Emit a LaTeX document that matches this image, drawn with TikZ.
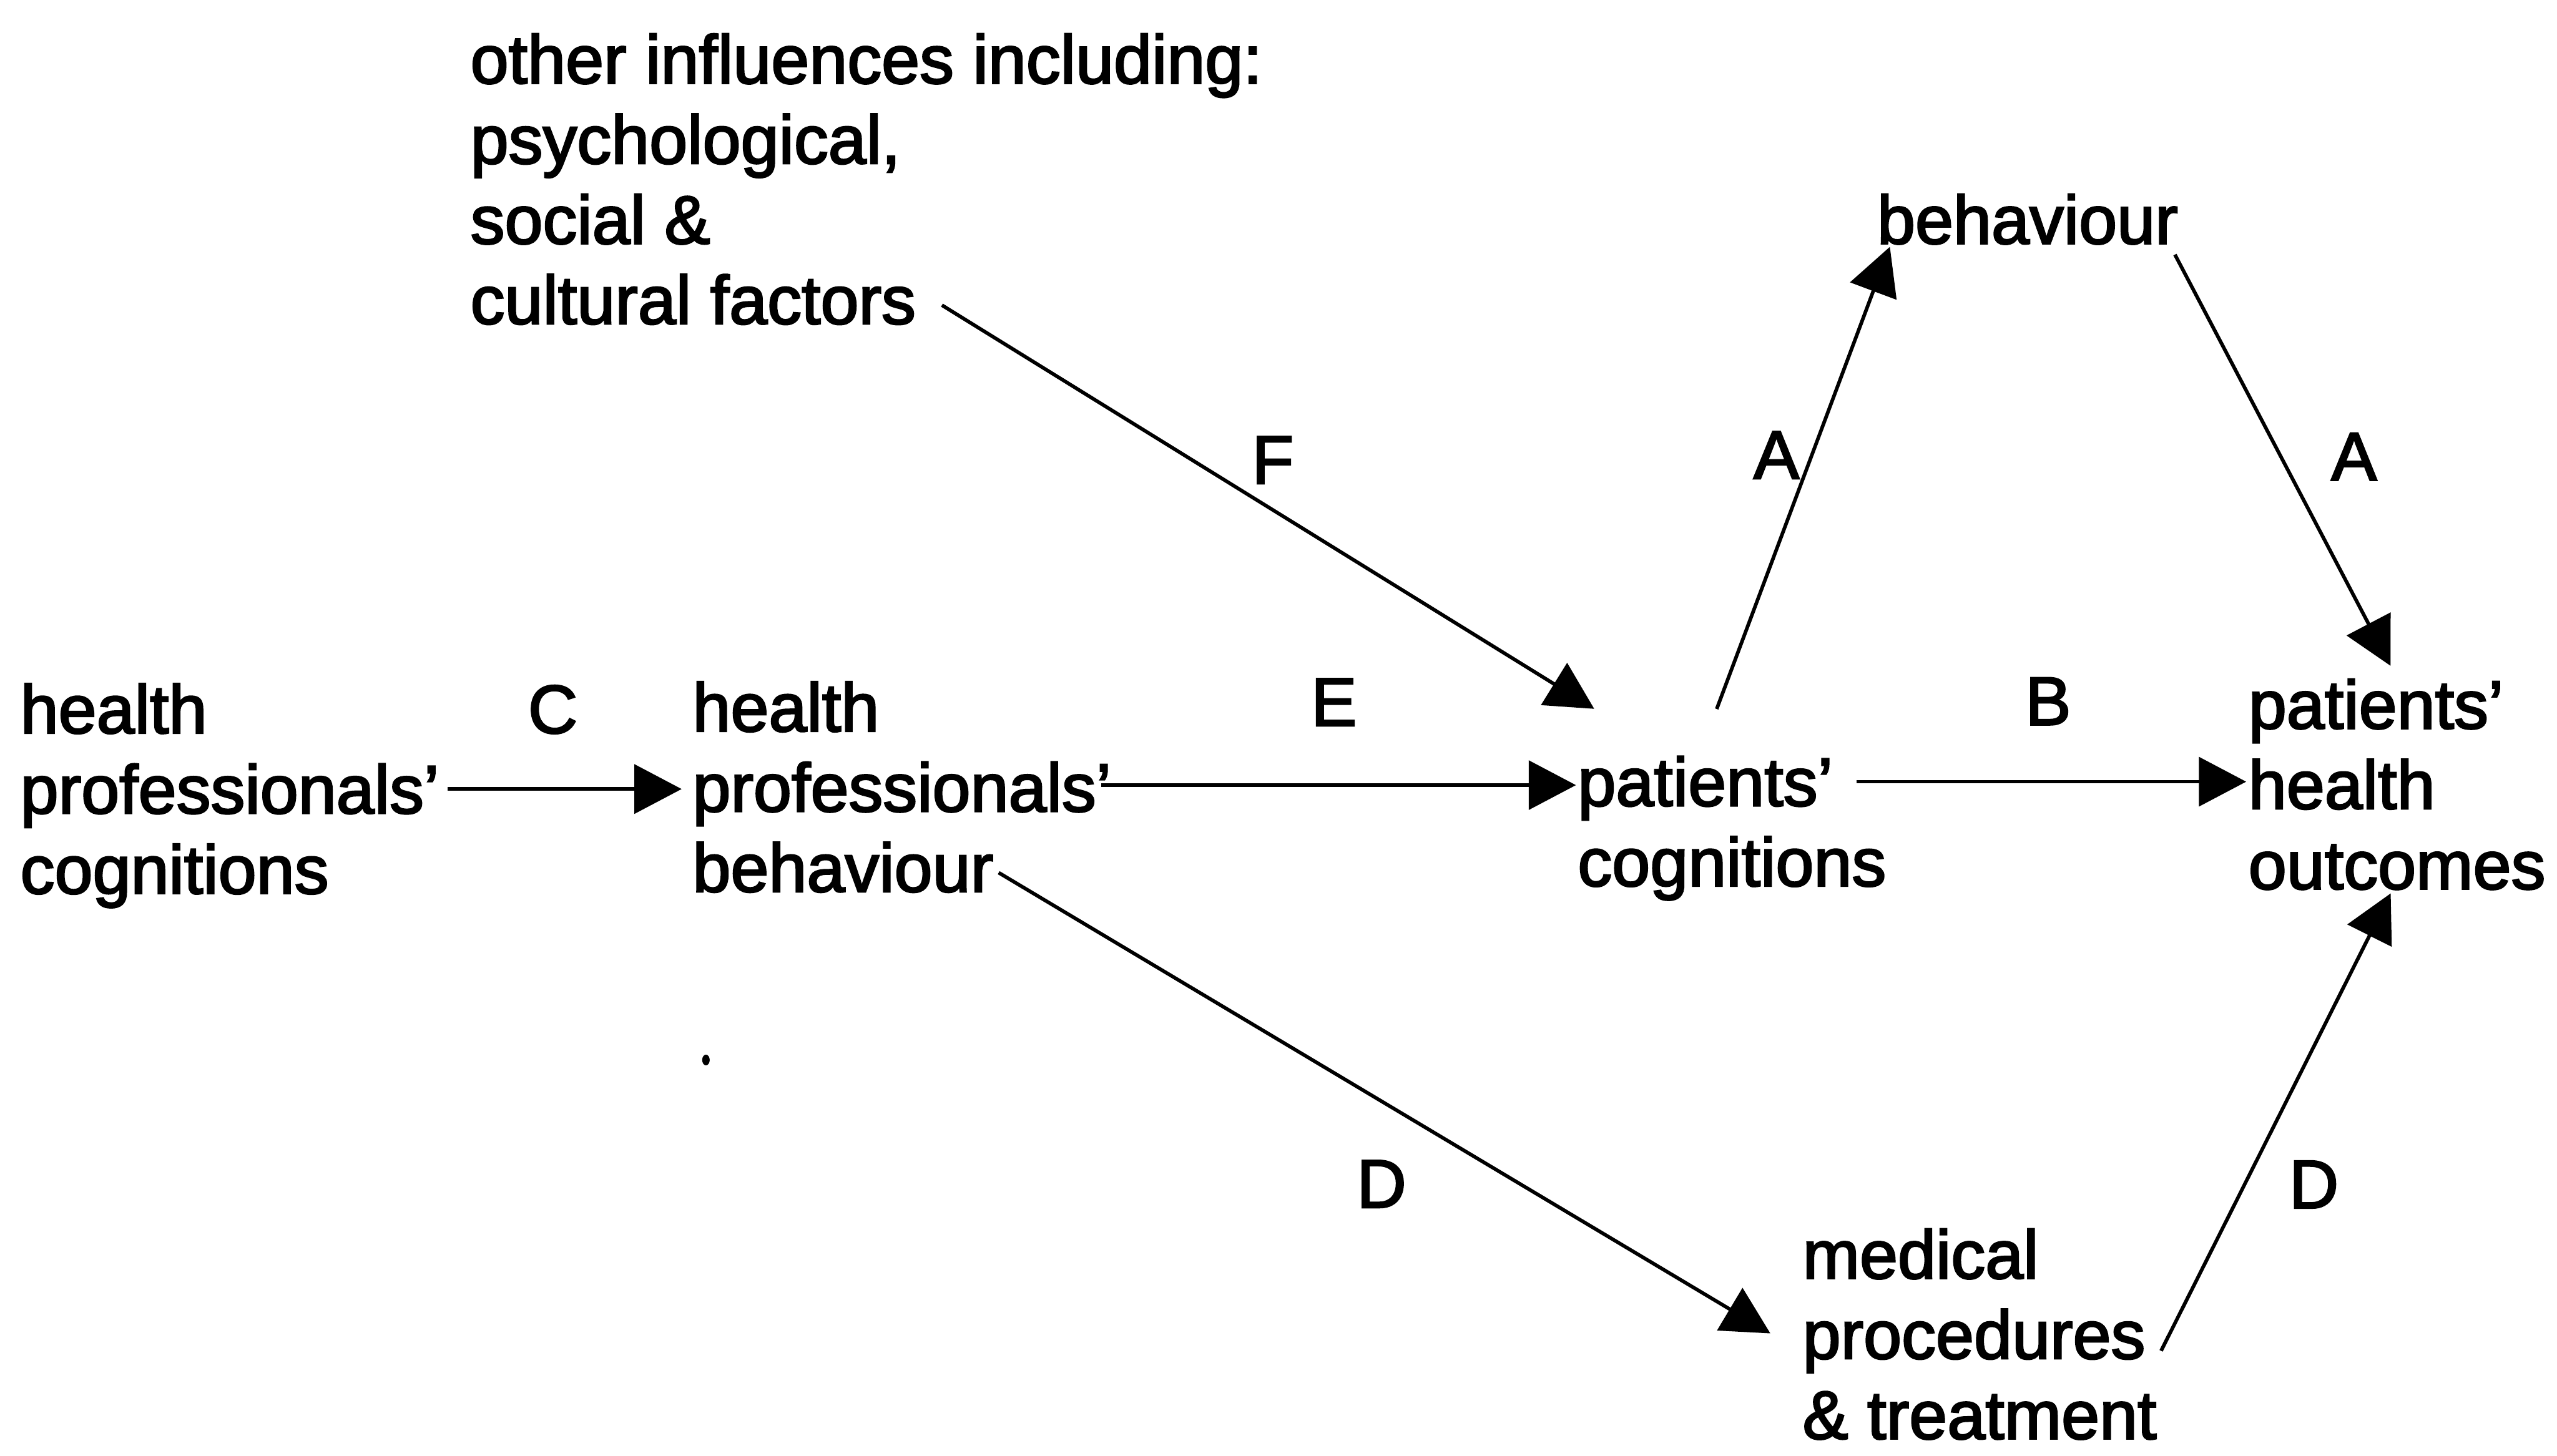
\documentclass[tikz,border=0pt]{standalone}
\usepackage{fontspec}
\setmainfont{Liberation Sans}[FakeBold=2.5]
\usetikzlibrary{arrows.meta}
\newcommand{\fl}{\rule[-9pt]{0pt}{41pt}}
\begin{document}
\begin{tikzpicture}[x=1pt,y=1pt,
  txt/.style={anchor=north west, inner sep=0pt, outer sep=0pt, align=left,
              font=\fontsize{42}{49.2}\selectfont},
  lbl/.style={anchor=base, inner sep=0pt, outer sep=0pt,
              font=\fontsize{42}{49.2}\selectfont},
  arr/.style={line width=2.2pt, -{Triangle[length=29pt,width=30pt]}}]
\useasboundingbox (0,0) rectangle (1568,893);

% text nodes
\node[txt] (hpc)   at (12.5,475.3)   {\fl health\\professionals’\\cognitions\fl};
\node[txt] (hpb)   at (424.7,476.4)  {\fl health\\professionals’\\behaviour\fl};
\node[txt] (pc)    at (967.5,430.7)  {\fl patients’\\cognitions\fl};
\node[txt] (pho)   at (1378.8,478.1) {\fl patients’\\health\\outcomes\fl};
\node[txt] (beh)   at (1151.1,775.5) {\fl behaviour};
\node[txt] (other) at (288.5,873.9)  {\fl other influences including:\\psychological,\\social \&\\cultural factors};
\node[txt] (med)   at (1105.4,140.8) {\fl medical\\procedures\\\& treatment};

% connector labels
\node[lbl] (lC)  at (339,443.3)    {C};
\node[lbl] (lE)  at (818,447.8)    {E};
\node[lbl] (lB)  at (1256,448.4)   {B};
\node[lbl] (lF)  at (780.5,596.3)  {F};
\node[lbl] (lA1) at (1089.3,599.4) {A};
\node[lbl] (lA2) at (1443.5,598.4) {A};
\node[lbl] (lD1) at (847.2,152.3)  {D};
\node[lbl] (lD2) at (1418.9,152)   {D};

% connectors
\draw[arr] ([shift={(262,-66.3)}]hpc.north west)   -- ([shift={(-6.7,-67.4)}]hpb.north west);
\draw[arr] ([shift={(250.5,-65)}]hpb.north west)   -- ([shift={(-1.1,-19.3)}]pc.north west);
\draw[arr] ([shift={(170.8,-17.2)}]pc.north west)  -- ([shift={(-1.4,-64.6)}]pho.north west);
\draw[arr] ([shift={(289.1,-168.1)}]other.north west) -- ([shift={(10.1,27.5)}]pc.north west);
\draw[arr] ([shift={(85.2,27.4)}]pc.north west)    -- ([shift={(7.8,-33.9)}]beh.north west);
\draw[arr] ([shift={(182.6,-38.7)}]beh.north west) -- ([shift={(87.1,6.5)}]pho.north west);
\draw[arr] ([shift={(187.7,-118.7)}]hpb.north west) -- ([shift={(-19.8,-65.7)}]med.north west);
\draw[arr] ([shift={(219.8,-76.4)}]med.north west) -- ([shift={(87.2,-133.1)}]pho.north west);

% stray mark
\fill (432.9,242.8) ellipse [x radius=2.3, y radius=3.3];
\end{tikzpicture}
\end{document}
